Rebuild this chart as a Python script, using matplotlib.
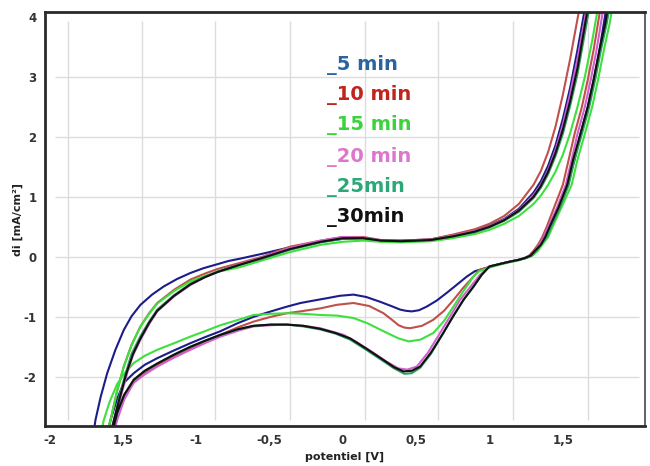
import numpy as np
import matplotlib
matplotlib.use("Agg")
import matplotlib.pyplot as plt

plt.rcParams['font.family'] = ['DejaVu Sans']

# ---- data (potential [V], current density [mA/cm2]) ----
labels = ["_5 min", "_10 min", "_15 min", "_20 min", "_25min", "_30min"]
line_colors = ["#1c1c8a", "#c0504a", "#3ee03e", "#d060d0", "#2e9e5e", "#111111"]
text_colors = ["#2a64a0", "#c0241c", "#3ad43a", "#dd77cc", "#2aa878", "#111111"]

# 5 min
up_e_5 = [-1.72, -1.686, -1.65, -1.606, -1.55, -1.493, -1.44, -1.379, -1.3, -1.221, -1.13, -1.039, -0.95, -0.85, -0.78, -0.698, -0.55, -0.358, -0.15, 0.0, 0.14, 0.26, 0.4, 0.6, 0.75, 0.9, 1.0, 1.1, 1.2, 1.3, 1.35, 1.4, 1.45, 1.5, 1.55, 1.6, 1.67]
up_i_5 = [-3.3, -2.72, -2.33, -1.94, -1.55, -1.22, -0.99, -0.80, -0.63, -0.495, -0.37, -0.27, -0.19, -0.12, -0.07, -0.03, 0.05, 0.16, 0.25, 0.30, 0.31, 0.27, 0.27, 0.29, 0.36, 0.44, 0.52, 0.63, 0.80, 1.07, 1.26, 1.52, 1.86, 2.3, 2.82, 3.45, 4.4]
lo_e_5 = [1.82, 1.78, 1.75, 1.71, 1.67, 1.62, 1.58, 1.53, 1.47, 1.41, 1.38, 1.35, 1.32, 1.28, 1.25, 1.2, 1.14, 1.07, 1.0, 0.9, 0.845, 0.78, 0.709, 0.64, 0.572, 0.52, 0.47, 0.43, 0.391, 0.33, 0.255, 0.16, 0.073, -0.02, -0.108, -0.2, -0.288, -0.38, -0.49, -0.608, -0.72, -0.834, -0.94, -1.039, -1.15, -1.265, -1.35, -1.425, -1.493, -1.54, -1.583, -1.64]
lo_i_5 = [4.5, 3.9, 3.45, 2.95, 2.5, 2.05, 1.62, 1.2, 0.82, 0.5, 0.33, 0.2, 0.1, 0.02, -0.02, -0.05, -0.08, -0.12, -0.17, -0.24, -0.33, -0.46, -0.6, -0.73, -0.83, -0.89, -0.91, -0.9, -0.88, -0.82, -0.75, -0.67, -0.63, -0.65, -0.69, -0.73, -0.77, -0.83, -0.91, -1.0, -1.11, -1.24, -1.34, -1.44, -1.56, -1.69, -1.8, -1.94, -2.1, -2.38, -2.72, -3.3]

# 10 min
up_e_10 = [-1.64, -1.583, -1.54, -1.493, -1.44, -1.379, -1.32, -1.265, -1.15, -1.039, -0.94, -0.85, -0.698, -0.55, -0.358, -0.15, 0.0, 0.14, 0.26, 0.4, 0.6, 0.75, 0.9, 1.0, 1.1, 1.2, 1.3, 1.35, 1.4, 1.45, 1.5, 1.55, 1.58, 1.64]
up_i_10 = [-3.3, -2.72, -2.25, -1.83, -1.47, -1.16, -0.94, -0.77, -0.55, -0.38, -0.28, -0.2, -0.1, 0.0, 0.17, 0.27, 0.33, 0.33, 0.28, 0.27, 0.29, 0.37, 0.46, 0.55, 0.68, 0.88, 1.2, 1.43, 1.75, 2.17, 2.7, 3.3, 3.7, 4.5]
lo_e_10 = [1.78, 1.74, 1.71, 1.67, 1.63, 1.58, 1.54, 1.5, 1.44, 1.39, 1.36, 1.33, 1.3, 1.27, 1.24, 1.2, 1.14, 1.07, 1.0, 0.93, 0.89, 0.82, 0.754, 0.69, 0.617, 0.54, 0.459, 0.42, 0.38, 0.33, 0.277, 0.18, 0.073, -0.04, -0.154, -0.29, -0.38, -0.49, -0.608, -0.72, -0.834, -0.94, -1.039, -1.15, -1.265, -1.35, -1.425, -1.49, -1.538, -1.6, -1.63]
lo_i_10 = [4.5, 3.9, 3.45, 2.95, 2.5, 2.05, 1.62, 1.2, 0.82, 0.5, 0.33, 0.2, 0.1, 0.02, -0.02, -0.05, -0.08, -0.12, -0.17, -0.22, -0.33, -0.52, -0.72, -0.9, -1.05, -1.15, -1.19, -1.18, -1.14, -1.04, -0.94, -0.82, -0.77, -0.8, -0.86, -0.91, -0.94, -1.0, -1.08, -1.18, -1.3, -1.41, -1.53, -1.66, -1.8, -1.93, -2.08, -2.32, -2.6, -3.1, -3.4]

# 15 min
up_e_15 = [-1.66, -1.583, -1.54, -1.493, -1.44, -1.379, -1.32, -1.265, -1.15, -1.039, -0.94, -0.85, -0.698, -0.55, -0.358, -0.15, 0.0, 0.14, 0.26, 0.4, 0.6, 0.75, 0.9, 1.0, 1.1, 1.2, 1.3, 1.35, 1.4, 1.45, 1.5, 1.55, 1.6, 1.65, 1.7, 1.75]
up_i_15 = [-3.3, -2.72, -2.25, -1.83, -1.47, -1.16, -0.95, -0.78, -0.57, -0.41, -0.32, -0.25, -0.17, -0.06, 0.08, 0.2, 0.25, 0.27, 0.25, 0.24, 0.26, 0.31, 0.38, 0.45, 0.55, 0.68, 0.88, 1.02, 1.2, 1.42, 1.7, 2.06, 2.5, 3.0, 3.6, 4.3]
lo_e_15 = [1.86, 1.82, 1.78, 1.74, 1.7, 1.65, 1.6, 1.56, 1.49, 1.43, 1.4, 1.36, 1.33, 1.29, 1.25, 1.2, 1.14, 1.07, 1.0, 0.93, 0.89, 0.82, 0.754, 0.69, 0.617, 0.53, 0.45, 0.38, 0.277, 0.17, 0.073, -0.04, -0.154, -0.27, -0.38, -0.49, -0.608, -0.698, -0.834, -0.94, -1.039, -1.15, -1.265, -1.35, -1.425, -1.49, -1.538, -1.59, -1.629, -1.68]
lo_i_15 = [4.5, 3.9, 3.45, 2.95, 2.5, 2.05, 1.62, 1.2, 0.82, 0.5, 0.33, 0.2, 0.1, 0.02, -0.02, -0.06, -0.09, -0.13, -0.18, -0.24, -0.33, -0.58, -0.83, -1.07, -1.27, -1.38, -1.41, -1.36, -1.24, -1.11, -1.02, -0.98, -0.97, -0.95, -0.94, -0.95, -0.97, -1.04, -1.14, -1.24, -1.33, -1.44, -1.55, -1.65, -1.77, -1.95, -2.12, -2.42, -2.72, -3.3]

# 20 min
up_e_20 = [-1.6, -1.549, -1.51, -1.47, -1.43, -1.379, -1.32, -1.265, -1.15, -1.039, -0.94, -0.85, -0.698, -0.55, -0.358, -0.15, 0.0, 0.14, 0.26, 0.4, 0.6, 0.75, 0.9, 1.0, 1.1, 1.2, 1.3, 1.35, 1.4, 1.45, 1.5, 1.55, 1.6, 1.66, 1.7]
up_i_20 = [-3.3, -2.72, -2.3, -1.94, -1.64, -1.38, -1.12, -0.91, -0.66, -0.47, -0.34, -0.25, -0.12, -0.01, 0.15, 0.27, 0.33, 0.32, 0.27, 0.26, 0.28, 0.35, 0.43, 0.51, 0.62, 0.78, 1.03, 1.2, 1.45, 1.78, 2.2, 2.72, 3.3, 4.1, 4.6]
lo_e_20 = [1.8, 1.76, 1.73, 1.69, 1.65, 1.6, 1.56, 1.52, 1.46, 1.4, 1.37, 1.34, 1.31, 1.28, 1.24, 1.2, 1.14, 1.07, 1.0, 0.935, 0.87, 0.799, 0.73, 0.663, 0.58, 0.504, 0.44, 0.379, 0.3, 0.209, 0.1, 0.005, -0.154, -0.27, -0.38, -0.49, -0.608, -0.698, -0.834, -0.94, -1.039, -1.15, -1.265, -1.35, -1.425, -1.49, -1.538, -1.58]
lo_i_20 = [4.5, 3.9, 3.45, 2.95, 2.5, 2.05, 1.62, 1.2, 0.82, 0.5, 0.33, 0.2, 0.1, 0.02, -0.02, -0.05, -0.08, -0.12, -0.16, -0.3, -0.5, -0.72, -1.0, -1.27, -1.6, -1.83, -1.88, -1.86, -1.75, -1.6, -1.43, -1.3, -1.19, -1.15, -1.13, -1.14, -1.16, -1.22, -1.33, -1.44, -1.55, -1.68, -1.83, -1.96, -2.1, -2.38, -2.72, -3.1]

# 25 min
up_e_25 = [-1.61, -1.56, -1.52, -1.48, -1.44, -1.379, -1.32, -1.265, -1.15, -1.039, -0.94, -0.85, -0.698, -0.55, -0.358, -0.15, 0.0, 0.14, 0.26, 0.4, 0.6, 0.75, 0.9, 1.0, 1.1, 1.2, 1.3, 1.35, 1.4, 1.45, 1.5, 1.55, 1.6, 1.67, 1.72]
up_i_25 = [-3.3, -2.72, -2.3, -1.94, -1.62, -1.32, -1.08, -0.88, -0.64, -0.45, -0.33, -0.24, -0.13, -0.03, 0.12, 0.24, 0.30, 0.31, 0.27, 0.26, 0.28, 0.34, 0.41, 0.49, 0.6, 0.75, 0.98, 1.15, 1.38, 1.68, 2.05, 2.52, 3.05, 4.0, 4.6]
lo_e_25 = [1.84, 1.8, 1.76, 1.72, 1.68, 1.63, 1.58, 1.54, 1.48, 1.42, 1.39, 1.35, 1.32, 1.29, 1.25, 1.2, 1.14, 1.07, 1.0, 0.947, 0.89, 0.822, 0.75, 0.685, 0.6, 0.527, 0.47, 0.42, 0.35, 0.277, 0.16, 0.05, -0.05, -0.154, -0.27, -0.38, -0.49, -0.608, -0.72, -0.834, -0.94, -1.039, -1.15, -1.265, -1.35, -1.425, -1.49, -1.538, -1.6]
lo_i_25 = [4.5, 3.9, 3.45, 2.95, 2.5, 2.05, 1.62, 1.2, 0.82, 0.5, 0.33, 0.2, 0.1, 0.02, -0.02, -0.05, -0.08, -0.12, -0.16, -0.3, -0.5, -0.72, -1.0, -1.27, -1.62, -1.85, -1.94, -1.95, -1.86, -1.74, -1.55, -1.38, -1.28, -1.21, -1.16, -1.13, -1.13, -1.15, -1.21, -1.3, -1.4, -1.5, -1.63, -1.78, -1.9, -2.05, -2.3, -2.6, -3.2]

# 30 min
up_e_30 = [-1.62, -1.56, -1.515, -1.475, -1.43, -1.379, -1.32, -1.265, -1.15, -1.039, -0.94, -0.85, -0.698, -0.55, -0.358, -0.15, 0.0, 0.14, 0.26, 0.4, 0.6, 0.75, 0.9, 1.0, 1.1, 1.2, 1.3, 1.35, 1.4, 1.45, 1.5, 1.55, 1.6, 1.66, 1.71]
up_i_30 = [-3.3, -2.72, -2.3, -1.94, -1.62, -1.36, -1.1, -0.90, -0.65, -0.46, -0.34, -0.25, -0.13, -0.02, 0.13, 0.25, 0.31, 0.31, 0.27, 0.26, 0.28, 0.34, 0.42, 0.50, 0.61, 0.77, 1.0, 1.18, 1.42, 1.73, 2.12, 2.6, 3.15, 4.0, 4.6]
lo_e_30 = [1.83, 1.79, 1.75, 1.71, 1.67, 1.62, 1.57, 1.53, 1.47, 1.41, 1.38, 1.35, 1.31, 1.28, 1.24, 1.2, 1.14, 1.07, 1.0, 0.947, 0.89, 0.822, 0.75, 0.685, 0.6, 0.527, 0.47, 0.413, 0.35, 0.277, 0.16, 0.05, -0.05, -0.154, -0.27, -0.38, -0.49, -0.608, -0.72, -0.834, -0.94, -1.039, -1.15, -1.265, -1.35, -1.425, -1.49, -1.538, -1.6]
lo_i_30 = [4.5, 3.9, 3.45, 2.95, 2.5, 2.05, 1.62, 1.2, 0.82, 0.5, 0.33, 0.2, 0.1, 0.02, -0.02, -0.05, -0.08, -0.12, -0.16, -0.3, -0.5, -0.72, -1.0, -1.27, -1.6, -1.83, -1.9, -1.91, -1.84, -1.72, -1.53, -1.36, -1.27, -1.2, -1.15, -1.13, -1.13, -1.15, -1.21, -1.3, -1.4, -1.5, -1.63, -1.78, -1.9, -2.05, -2.3, -2.6, -3.2]

x_ticks = [-2, -1.5, -1, -0.5, 0, 0.5, 1, 1.5]
x_tick_labels = ["-2", "1,5", "-1", "-0,5", "0", "0,5", "1", "1,5"]
y_ticks = [-2, -1, 0, 1, 2, 3, 4]
y_tick_labels = ["-2", "-1", "0", "1", "2", "3", "4"]
grid_x = [-1.87, -1.37, -0.87, -0.36, 0.15, 0.65, 1.16, 1.67]
grid_y = [-2, -1, 0, 1, 2, 3]

series = [
    (up_e_5, up_i_5, lo_e_5, lo_i_5),
    (up_e_10, up_i_10, lo_e_10, lo_i_10),
    (up_e_15, up_i_15, lo_e_15, lo_i_15),
    (up_e_20, up_i_20, lo_e_20, lo_i_20),
    (up_e_25, up_i_25, lo_e_25, lo_i_25),
    (up_e_30, up_i_30, lo_e_30, lo_i_30),
]

# ---- figure ----
fig = plt.figure(figsize=(6.5, 4.66), dpi=100)
ax = fig.add_axes([45 / 650, 1 - 426 / 466, 600 / 650, 414 / 466])
ax.set_xlim(-2.03, 2.06)
ax.set_ylim(-2.82, 4.08)

grid_kw = dict(color="#dcdcdc", lw=1.0, zorder=0)
ax.hlines(grid_y, -1.96, 2.02, **grid_kw)
ax.vlines(grid_x, -2.72, 3.93, **grid_kw)

for (ue, ui, le, li), c in zip(series, line_colors):
    e = np.concatenate([ue, le])
    i = np.concatenate([ui, li])
    ax.plot(e, i, color=c, lw=1.5, solid_joinstyle="round", zorder=2)

legend_y = [3.2, 2.7, 2.2, 1.67, 1.17, 0.67]
for lab, c, yy in zip(labels, text_colors, legend_y):
    ax.text(-0.11, yy, lab, color=c, fontsize=14, fontweight="bold",
            ha="left", va="center", zorder=3)

ax.set_xticks(x_ticks)
ax.set_xticklabels(x_tick_labels)
ax.set_yticks(y_ticks)
ax.set_yticklabels(y_tick_labels)
ax.tick_params(length=0, labelsize=8.5, labelcolor="#333333", pad=6)
for lbl in ax.get_xticklabels() + ax.get_yticklabels():
    lbl.set_fontweight("bold")

ax.set_xlabel("potentiel [V]", fontsize=8, fontweight="bold", color="#222222", labelpad=3)
ax.set_ylabel("di [mA/cm²]", fontsize=8, fontweight="bold", color="#222222", labelpad=0.5)

for side in ["left", "bottom", "top"]:
    ax.spines[side].set_linewidth(2.0)
    ax.spines[side].set_color("#2a2a2a")
ax.spines["right"].set_linewidth(1.3)
ax.spines["right"].set_color("#555555")

fig.savefig("out.png", dpi=100)
